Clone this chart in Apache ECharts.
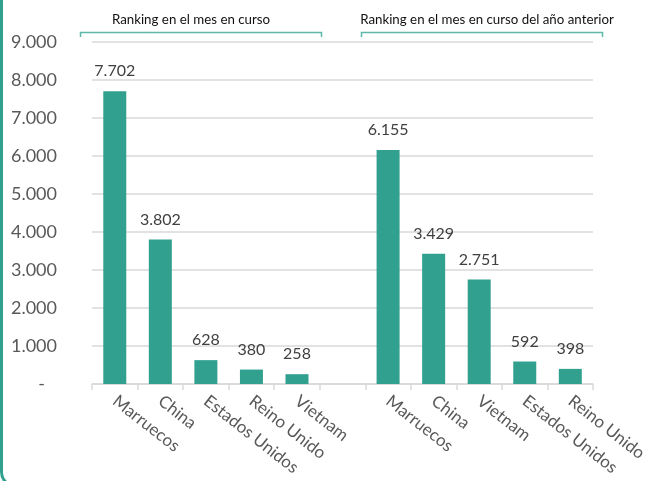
<!DOCTYPE html>
<html>
<head>
<meta charset="utf-8">
<script src="https://cdn.jsdelivr.net/npm/echarts@6/dist/echarts.min.js"></script>
<style>
  html, body { margin: 0; padding: 0; background: #fff; }
  #chart { width: 650px; height: 481px; }
</style>
</head>
<body>
<div id="chart"></div>
<script>
  // categorías (la sexta queda vacía para separar los dos bloques)
  var categories = ["Marruecos", "China", "Estados Unidos", "Reino Unido", "Vietnam", "",
                    "Marruecos", "China", "Vietnam", "Estados Unidos", "Reino Unido"];
  var values = [7702, 3802, 628, 380, 258, null, 6155, 3429, 2751, 592, 398];
  var yTicks = [0, 1000, 2000, 3000, 4000, 5000, 6000, 7000, 8000, 9000];
  var groupTitles = ["Ranking en el mes en curso", "Ranking en el mes en curso del año anterior"];

  var teal = "#32A08F";
  var bracket = "#5DB8AA";

  // formato español: 7.702, y el cero como "-"
  function fmt(v) {
    if (v === 0) return "{d|-}";
    return String(v).replace(/\B(?=(\d{3})+(?!\d))/g, ".");
  }

  var myChart = echarts.init(document.getElementById("chart"));
  var option = {
    animation: false,
    textStyle: { fontFamily: "Lato" },
    grid: {
      left: 92,
      right: 55,
      top: 42,
      bottom: 97,
      containLabel: false
    },
    xAxis: {
      type: "category",
      data: categories,
      axisLine: { lineStyle: { color: "#d9d9d9", width: 1.5 } },
      axisTick: { show: true, length: 6, lineStyle: { color: "#d9d9d9", width: 1.5 } },
      axisLabel: {
        rotate: -38,
        interval: 0,
        margin: 15,
        color: "#595959",
        fontSize: 17
      }
    },
    yAxis: {
      type: "value",
      min: yTicks[0],
      max: yTicks[yTicks.length - 1],
      interval: 1000,
      axisLine: { show: false },
      axisTick: { show: false },
      splitLine: { lineStyle: { color: "#d9d9d9", width: 1.5 } },
      axisLabel: {
        margin: 35,
        color: "#595959",
        fontSize: 18,
        formatter: fmt,
        rich: { d: { fontSize: 18, color: "#595959", padding: [0, 12, 0, 0] } }
      }
    },
    series: [
      {
        type: "bar",
        data: values,
        barWidth: 23,
        itemStyle: { color: teal },
        label: {
          show: true,
          position: "top",
          distance: 12,
          fontSize: 16,
          color: "#404040",
          formatter: function (p) { return fmt(p.value); }
        }
      }
    ],
    graphic: [
      // borde izquierdo del recuadro
      {
        type: "rect",
        shape: { x: 1.5, y: -20, width: 800, height: 506, r: [0, 0, 0, 14] },
        style: { fill: "none", stroke: teal, lineWidth: 3 },
        silent: true
      },
      // llaves de los grupos
      {
        type: "polyline",
        shape: { points: [[80.5, 37], [80.5, 32.5], [321.5, 32.5], [321.5, 37]] },
        style: { fill: "none", stroke: bracket, lineWidth: 1.5 }
      },
      {
        type: "polyline",
        shape: { points: [[361.5, 37], [361.5, 32.5], [602.5, 32.5], [602.5, 37]] },
        style: { fill: "none", stroke: bracket, lineWidth: 1.5 }
      },
      {
        type: "text",
        x: 191, y: 20,
        style: { text: groupTitles[0], fontFamily: "Lato", fontSize: 13.3, fill: "#111", align: "center", verticalAlign: "middle" }
      },
      {
        type: "text",
        x: 487, y: 20,
        style: { text: groupTitles[1], fontFamily: "Lato", fontSize: 13.3, fill: "#111", align: "center", verticalAlign: "middle" }
      }
    ]
  };
  myChart.setOption(option);
</script>
</body>
</html>
